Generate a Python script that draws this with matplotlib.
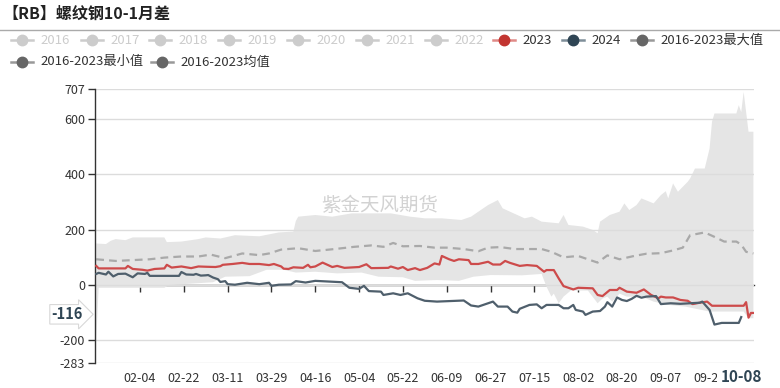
import matplotlib
matplotlib.use("Agg")
import matplotlib.pyplot as plt
import matplotlib.dates as mdates
from matplotlib.lines import Line2D
import pandas as pd

plt.rcParams['font.family'] = ['Noto Sans CJK SC', 'DejaVu Sans']

YEAR = '2024-'

# 2023 spread
red_dates = ['01-17', '01-18', '01-29', '01-30', '02-01', '02-05', '02-07', '02-10', '02-14', '02-15',
             '02-17', '02-21', '02-25', '02-28', '03-02', '03-06', '03-08', '03-09', '03-13', '03-17',
             '03-20', '03-24', '03-28', '03-30', '04-02', '04-03', '04-05', '04-07', '04-11', '04-13',
             '04-14', '04-16', '04-19', '04-23', '04-25', '04-28', '05-04', '05-07', '05-09', '05-16',
             '05-17', '05-20', '05-22', '05-24', '05-27', '05-29', '06-01', '06-04', '06-06', '06-07',
             '06-10', '06-12', '06-14', '06-18', '06-19', '06-22', '06-26', '06-28', '07-01', '07-03',
             '07-05', '07-09', '07-12', '07-16', '07-19', '07-20', '07-23', '07-25', '07-27', '07-31',
             '08-02', '08-08', '08-10', '08-12', '08-15', '08-18', '08-19', '08-22', '08-26', '08-29',
             '09-01', '09-04', '09-05', '09-07', '09-10', '09-13', '09-16', '09-18', '09-21', '09-24',
             '09-26', '10-09', '10-10', '10-11', '10-12', '10-13']
red_vals = [69, 60, 60, 69, 58, 55, 52, 58, 60, 73,
            63, 67, 61, 67, 66, 65, 68, 73, 76, 80,
            76, 76, 72, 76, 67, 59, 58, 64, 62, 73,
            64, 67, 81, 65, 69, 62, 65, 75, 61, 62,
            67, 59, 65, 54, 61, 54, 62, 78, 74, 105,
            93, 87, 93, 90, 76, 76, 84, 74, 74, 87,
            80, 69, 72, 69, 48, 54, 54, 24, -4, -16,
            -10, -12, -36, -40, -18, -18, -10, -24, -28, -16,
            -36, -48, -42, -45, -45, -54, -57, -69, -64, -60,
            -75, -75, -62, -118, -101, -101]

# 2024 spread
blue_dates = ['01-17', '01-18', '01-21', '01-22', '01-24', '01-26', '01-29', '02-01', '02-03', '02-06',
              '02-07', '02-08', '02-20', '02-21', '02-23', '02-26', '02-27', '02-29', '03-02', '03-03',
              '03-05', '03-07', '03-08', '03-10', '03-11', '03-14', '03-19', '03-24', '03-28', '03-29',
              '04-01', '04-06', '04-08', '04-12', '04-16', '04-27', '04-30', '05-04', '05-06', '05-08',
              '05-13', '05-14', '05-18', '05-21', '05-24', '05-28', '05-31', '06-05', '06-16', '06-19',
              '06-22', '06-26', '06-28', '06-30', '07-04', '07-06', '07-08', '07-09', '07-13', '07-16',
              '07-18', '07-20', '07-25', '07-27', '07-29', '07-31', '08-01', '08-04', '08-05', '08-08',
              '08-11', '08-13', '08-14', '08-16', '08-18', '08-20', '08-22', '08-24', '08-26', '08-28',
              '08-30', '09-03', '09-05', '09-09', '09-13', '09-21', '09-22', '09-25', '09-27', '09-30',
              '10-07', '10-08']
blue_vals = [40, 44, 38, 48, 31, 40, 41, 28, 42, 40,
             44, 33, 33, 47, 38, 37, 40, 34, 35, 36,
             27, 21, 11, 14, 3, 1, 8, 3, 8, -3,
             1, 2, 14, 9, 15, 10, -10, -14, -3, -22,
             -24, -36, -30, -36, -30, -48, -57, -60, -56, -74,
             -78, -66, -60, -78, -78, -96, -100, -86, -72, -70,
             -84, -72, -72, -84, -84, -72, -90, -96, -108, -96,
             -94, -78, -62, -78, -45, -54, -58, -50, -39, -46,
             -42, -40, -69, -66, -68, -64, -60, -90, -143, -137,
             -137, -116]

# 2016-2023 mean
mean_dates = ['01-17', '01-25', '02-01', '02-08', '02-14', '02-21', '02-28', '03-04', '03-10', '03-17',
              '03-24', '03-28', '04-02', '04-09', '04-16', '04-24', '05-02', '05-09', '05-14', '05-18',
              '05-22', '05-29', '06-04', '06-09', '06-16', '06-22', '06-26', '07-01', '07-07', '07-12',
              '07-18', '07-22', '07-27', '08-02', '08-06', '08-10', '08-14', '08-19', '08-25', '08-30',
              '09-05', '09-10', '09-14', '09-17', '09-23', '09-27', '10-01', '10-06', '10-08', '10-10',
              '10-13']
mean_vals = [93, 87, 90, 93, 99, 103, 103, 110, 97, 114,
             108, 114, 128, 133, 123, 130, 138, 143, 138, 152,
             140, 141, 135, 135, 130, 122, 135, 137, 130, 130,
             130, 120, 100, 105, 93, 81, 107, 93, 105, 113,
             115, 125, 135, 180, 190, 174, 157, 157, 146, 120,
             114]

# 2016-2023 max
max_dates = ['01-17', '01-21', '01-23', '01-25', '01-29', '02-01', '02-14', '02-15', '02-21', '02-28',
             '03-02', '03-08', '03-14', '03-24', '04-01', '04-07', '04-08', '04-09', '04-16', '04-23',
             '05-01', '05-10', '05-17', '05-25', '05-31', '06-07', '06-15', '06-19', '06-23', '06-26',
             '06-30', '07-02', '07-05', '07-08', '07-11', '07-14', '07-18', '07-25', '07-27', '07-29',
             '08-04', '08-08', '08-10', '08-11', '08-15', '08-19', '08-21', '08-23', '08-26', '08-28',
             '09-02', '09-05', '09-07', '09-08', '09-10', '09-12', '09-16', '09-17', '09-19', '09-23',
             '09-25', '09-26', '09-27', '10-06', '10-07', '10-08', '10-09', '10-11', '10-13']
max_vals = [150, 148, 160, 166, 162, 172, 172, 155, 157, 166,
            172, 168, 180, 176, 190, 193, 231, 247, 253, 247,
            259, 259, 259, 247, 241, 241, 235, 247, 271, 289,
            307, 277, 265, 253, 241, 247, 229, 223, 253, 217,
            211, 199, 187, 229, 253, 265, 295, 271, 289, 313,
            295, 325, 339, 313, 367, 337, 373, 385, 421, 421,
            493, 590, 620, 620, 650, 625, 698, 554, 554]

# 2016-2023 min
min_dates = ['01-17', '01-18', '02-14', '02-16', '02-25', '03-05', '03-10', '03-20', '03-27', '04-03',
             '04-08', '04-16', '04-25', '05-05', '05-12', '05-22', '05-27', '06-05', '06-14', '06-20',
             '06-27', '07-10', '07-18', '07-20', '07-22', '07-23', '07-25', '07-27', '07-30', '08-06',
             '08-10', '08-12', '08-14', '08-16', '08-19', '08-22', '08-28', '09-02', '09-08', '09-15',
             '09-25', '10-09', '10-11', '10-13']
min_vals = [-200, -10, -10, 0, 5, 10, 30, 32, 55, 55,
            45, 48, 42, 45, 30, 28, 15, 18, 15, 30,
            36, 35, 40, -6, -42, -31, -66, -42, -20, -20,
            -66, -49, -42, -60, -31, -42, -42, -60, -72, -78,
            -96, -96, -120, -120]

y_ticks = [707, 600, 400, 200, 0, -200, -283]

inactive_years = ['2016', '2017', '2018', '2019', '2020', '2021', '2022']


def to_dt(ds):
    return pd.to_datetime([YEAR + d for d in ds])


W, H = 780, 388
fig = plt.figure(figsize=(W / 100, H / 100), dpi=100)
ax = fig.add_axes([95 / W, 1 - 363.3 / H, 659 / W, 273.9 / H])

# band between min and max
band_x = list(mdates.date2num(to_dt(max_dates))) + list(mdates.date2num(to_dt(min_dates)))[::-1]
band_y = max_vals + min_vals[::-1]
ax.fill(band_x, band_y, color='#e5e5e5', lw=0, zorder=0.2, clip_on=False)

ax.plot(to_dt(mean_dates), mean_vals, color='#a9a9a9', lw=1.6, dashes=(3.5, 2.3), zorder=2)
ax.plot(to_dt(red_dates), red_vals, color='#cd4b4b', lw=1.6, zorder=3)
ax.plot(to_dt(blue_dates), blue_vals, color='#4f5f6c', lw=1.6, zorder=4)

ax.set_ylim(-283, 707)
ax.set_xlim(pd.Timestamp('2024-01-16 12:00'), pd.Timestamp('2024-10-13 06:00'))
ax.set_yticks(y_ticks)
ax.set_yticklabels([str(v) for v in y_ticks])
ax.set_axisbelow(True)
ax.grid(axis='y', color='#dcdcdc', lw=1)
ax.grid(axis='x', visible=False)

for s in ['top', 'right', 'bottom']:
    ax.spines[s].set_visible(False)
ax.spines['left'].set_color('#333333')
ax.spines['left'].set_linewidth(1)
ax.tick_params(axis='y', length=5, width=1, color='#333333', labelcolor='#333333',
               labelsize=9, pad=2)

xt = pd.date_range('2024-02-04', periods=14, freq='18D')
ax.set_xticks(xt)
ax.set_xticklabels([d.strftime('%m-%d') for d in xt])
ax.tick_params(axis='x', length=0, labelcolor='#333333', labelsize=9, pad=6)

# zero axis line with ticks
zero_pos = 283 / 990
sec = ax.secondary_xaxis(zero_pos)
sec.set_xticks(xt)
sec.tick_params(axis='x', direction='out', length=5, width=1, color='#333333', labelbottom=False,
                labeltop=False)
for s in sec.spines.values():
    s.set_color('#333333')
    s.set_linewidth(1)

# last value marker on y axis
ax.annotate(str(blue_vals[-1]), xy=(0, blue_vals[-1]), xycoords=ax.get_yaxis_transform(),
            xytext=(-20, 2), textcoords='offset points', ha='center', va='center',
            fontsize=10.5, fontweight='bold', color='#2f4554', zorder=10, annotation_clip=False,
            bbox=dict(boxstyle='rarrow,pad=0.12', fc='white', ec='#d8d8d8', lw=0.8))

# last date marker on x axis
last_day = mdates.date2num(to_dt(blue_dates[-1:])[0])
ax.annotate(blue_dates[-1], xy=(last_day, 0), xycoords=ax.get_xaxis_transform(),
            xytext=(0, -4), textcoords='offset points', ha='center', va='top',
            fontsize=11, fontweight='bold', color='#2f4554', zorder=10, annotation_clip=False,
            bbox=dict(boxstyle='square,pad=0.25', fc='white', ec='none'))

# watermark
ax.text(0.432, 0.575, '紫金天风期货', transform=ax.transAxes, fontsize=14, color='#d2d2d2',
        ha='center', va='center', zorder=5)

# title and separator
fig.text(2 / W, 1 - 14 / H, '【RB】螺纹钢10-1月差', fontsize=11.5, fontweight='bold',
         color='#222222', va='center', ha='left')
fig.add_artist(Line2D([0, 1], [1 - 29.5 / H] * 2, transform=fig.transFigure, color='#aaaaaa', lw=1))

# legend drawn by hand
legend_rows = [
    (40, inactive_years + ['2023', '2024', '2016-2023最大值'],
     [22, 92, 160, 229, 298, 367, 436, 504, 573, 642]),
    (62, ['2016-2023最小值', '2016-2023均值'], [22, 162]),
]
styles = {'2023': ('#c23531', '#e08a88', '#333333'),
          '2024': ('#2f4554', '#7f8e99', '#333333')}
for y_px, names, xs in legend_rows:
    for name, cx in zip(names, xs):
        if name in inactive_years:
            mc, lc, tc = '#cccccc', '#cccccc', '#cccccc'
        else:
            mc, lc, tc = styles.get(name, ('#666666', '#999999', '#333333'))
        yy = 1 - y_px / H
        fig.add_artist(Line2D([(cx - 11) / W, (cx + 11) / W], [yy, yy], transform=fig.transFigure,
                              color=lc, lw=1.8))
        fig.add_artist(Line2D([cx / W], [yy], transform=fig.transFigure, marker='o', markersize=7.5,
                              color=mc, lw=0))
        fig.text((cx + 18) / W, yy, name, fontsize=9.5, color=tc, va='center', ha='left')

fig.savefig('out.png', dpi=100)
